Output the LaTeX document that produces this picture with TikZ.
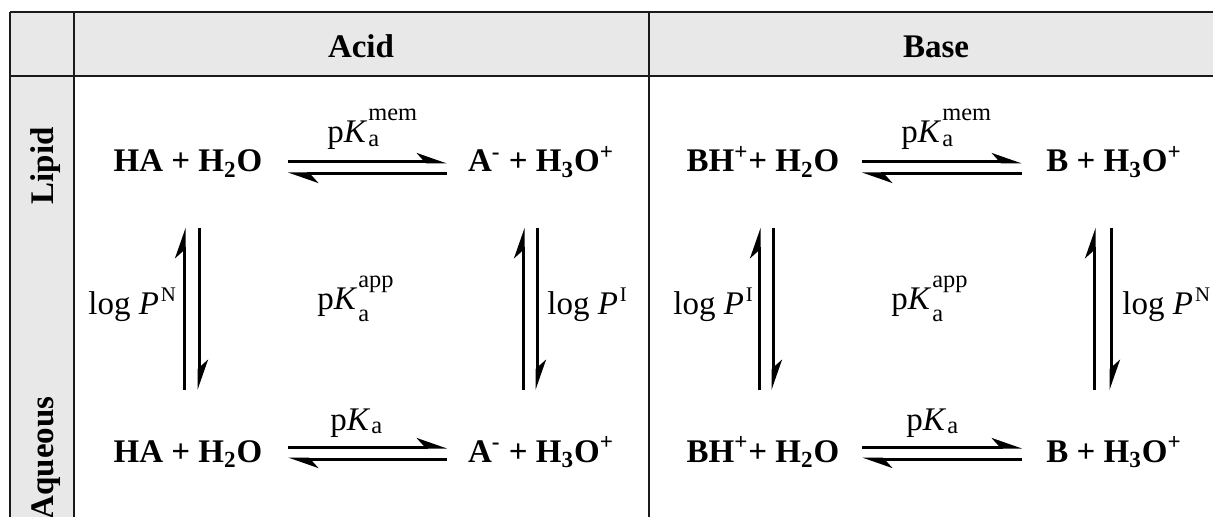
\documentclass[tikz,border=0pt]{standalone}
\usepackage{fontspec}
\setmainfont{Liberation Serif}
\usetikzlibrary{arrows.meta,positioning,calc}
\definecolor{cG}{HTML}{E8E8E8}
\definecolor{cL}{HTML}{1A1A1A}
\tikzset{
  rule/.style={draw=cL,line width=1.2pt},
  chem/.style={font=\fontsize{16.5}{20}\selectfont\bfseries,inner sep=0pt,anchor=base},
  head/.style={font=\fontsize{16.5}{20}\selectfont\bfseries,inner sep=0pt,anchor=base},
  lbl/.style={font=\fontsize{16.5}{20}\selectfont,inner sep=0pt,anchor=base west},
  harp/.style={-{Stealth[left,length=13pt,width=9pt,inset=4pt]},line width=1.5pt},
}
\newcommand{\supsz}{\fontsize{12.2}{12}\selectfont}
\newcommand{\pKa}[2][1.6pt]{p\textit{K}\kern0.5pt\makebox[0pt][l]{\raisebox{-#1}{\supsz a}}\raisebox{11pt}{\supsz #2}}
\newcommand{\logP}[1]{log \textit{P}\kern1pt\raisebox{6.7pt}{\fontsize{10.4}{10}\selectfont #1}}

\begin{document}
\begin{tikzpicture}[x=0.5pt,y=-0.5pt]
  \useasboundingbox (0,0) rectangle (1213,517);
  % table
  \fill[cG] (10,12) rectangle (1213,76);
  \fill[cG] (10,76) rectangle (74,517);
  \draw[rule] (10,12) -- (1213,12);
  \draw[rule] (10,76) -- (1213,76);
  \foreach \x in {10,74,649}
     \draw[rule] (\x,12) -- (\x,517);
  \node[head] (acid) at (361,58){Acid};
  \node[head] (base) at (936,58){Base};
  \node[head,rotate=90] (lipid) at (53,166){Lipid};
  \node[head,rotate=90,anchor=base east] (aqueous) at (53,396){Aqueous};

  % species
  \foreach \r/\y in {l/172,q/462}{
     \node[chem] (ha\r) at (188,\y){HA + H\textsubscript{2}O};
     \node[chem] (a\r) at (541,\y){A\textsuperscript{-} + H\textsubscript{3}O\textsuperscript{+}};
     \node[chem] (bh\r) at (763,\y){BH\textsuperscript{+}+ H\textsubscript{2}O};
     \node[chem] (b\r) at (1114,\y){B + H\textsubscript{3}O\textsuperscript{+}};
  }

  % horizontal equilibria
  \foreach \c/\xa/\xb in {a/288/447,b/862/1022}
  \foreach \r/\ya/\yb in {l/162/174,q/447/459}{
     \coordinate (\c\r1) at (\xa,\ya);
     \coordinate (\c\r2) at (\xb,\ya);
     \coordinate (\c\r3) at (\xa,\yb);
     \coordinate (\c\r4) at (\xb,\yb);
     \draw[harp] (\c\r1) -- (\c\r2);
     \draw[harp] (\c\r4) -- (\c\r3);
  }

  % vertical partitions
  \foreach \v/\xa/\xb in {1/184/199,2/523/537,3/759/773,4/1094/1111}{
     \coordinate (up\v a) at (\xa,390);
     \coordinate (up\v b) at (\xa,228);
     \coordinate (dn\v a) at (\xb,228);
     \coordinate (dn\v b) at (\xb,390);
     \draw[harp] (up\v a) -- (up\v b);
     \draw[harp] (dn\v a) -- (dn\v b);
  }

  % constants
  \node[lbl] (kmemA) at (327,143){\pKa{mem}};
  \node[lbl] (kmemB) at (901,143){\pKa{mem}};
  \node[lbl] (kaA) at (330,430){\pKa{}};
  \node[lbl] (kaB) at (906,430){\pKa{}};
  \node[lbl] (kappA) at (317,310){\pKa[6pt]{app}};
  \node[lbl] (kappB) at (891,310){\pKa[6pt]{app}};
  \node[lbl] (pnA) at (88,315){\logP{N}};
  \node[lbl] (piA) at (547,315){\logP{I}};
  \node[lbl] (piB) at (673,315){\logP{I}};
  \node[lbl] (pnB) at (1122,315){\logP{N}};
\end{tikzpicture}
\end{document}
